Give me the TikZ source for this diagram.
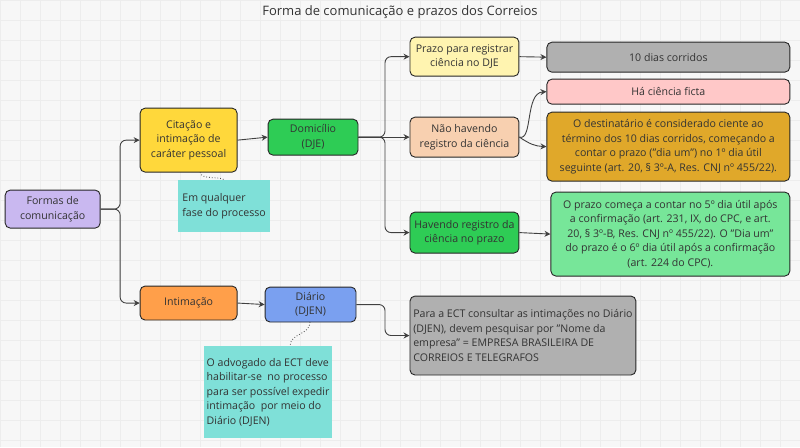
\documentclass[tikz,border=0pt]{standalone}
\usepackage{fontspec}
\setmainfont{Open Sans}
\usetikzlibrary{arrows.meta}
\begin{document}
\begin{tikzpicture}[x=1pt,y=-1pt,
  box/.style={draw=black!85,line width=0.9pt,rounded corners=5pt,align=center,inner sep=2pt,font=\fontsize{10.6}{14.5}\selectfont,text=black!80},
  note/.style={fill=teal!20!cyan!40!green!30!white,align=left,font=\fontsize{10.6}{14.5}\selectfont,text=black!80,inner sep=3pt},
  con/.style={draw=black!75,line width=0.9pt,-{Stealth[length=6pt,width=6pt]},rounded corners=6pt},
  dot/.style={draw=black!70,line width=0.8pt,dotted}]
\fill[white!97!black] (0,0) rectangle (800,447);
\foreach \x in {0,20,...,800}{\draw[black!7,line width=0.4pt] (\x,0)--(\x,447);}
\foreach \y in {0,20,...,440}{\draw[black!7,line width=0.4pt] (0,\y)--(800,\y);}
\node[font=\fontsize{13}{15}\selectfont,text=black!80] (title) at (400,12) {Forma de comunicação e prazos dos Correios};
\node[box,fill={rgb,255:red,201;green,184;blue,240},minimum width=95pt,minimum height=38pt] (formas) at (52.5,209) {Formas de\\comunicação};
\node[box,fill={rgb,255:red,255;green,216;blue,59},minimum width=97pt,minimum height=64pt] (cit) at (188.5,140) {Citação e\\intimação de\\caráter pessoal};
\node[box,fill={rgb,255:red,46;green,204;blue,85},minimum width=90pt,minimum height=36pt] (dom) at (313,137) {Domicílio\\(DJE)};
\node[note,fill={rgb,255:red,127;green,224;blue,216},minimum width=92pt,minimum height=52pt] (n1) at (224,206) {Em qualquer\\fase do processo};
\node[box,fill={rgb,255:red,255;green,159;blue,74},minimum width=97pt,minimum height=34pt] (intim) at (188.5,303) {Intimação};
\node[box,fill={rgb,255:red,122;green,160;blue,240},minimum width=91pt,minimum height=35pt] (diario) at (310.5,304.5) {Diário\\(DJEN)};
\node[note,fill={rgb,255:red,127;green,224;blue,216},minimum width=110pt,minimum height=92pt] (n2) at (268,392) {O advogado da ECT deve\\habilitar-se \ no processo\\para ser possível expedir\\intimação \ por meio do\\Diário (DJEN)};
\node[box,fill={rgb,255:red,255;green,244;blue,176},minimum width=109pt,minimum height=39pt] (prazo) at (464.5,56.5) {Prazo para registrar\\ciência no DJE};
\node[box,fill={rgb,255:red,176;green,176;blue,176},minimum width=243pt,minimum height=30pt] (dez) at (668.5,57) {10 dias corridos};
\node[box,fill={rgb,255:red,248;green,208;blue,176},minimum width=109pt,minimum height=40pt] (nao) at (464.5,137) {Não havendo\\registro da ciência};
\node[box,fill={rgb,255:red,255;green,200;blue,200},minimum width=243pt,minimum height=25pt] (ficta) at (668.5,91.5) {Há ciência ficta};
\node[box,fill={rgb,255:red,224;green,168;blue,42},minimum width=243pt,minimum height=69pt] (dest) at (668.5,146.5) {O destinatário é considerado ciente ao\\término dos 10 dias corridos, começando a\\contar o prazo (\symbol{34}dia um\symbol{34}) no 1º dia útil\\seguinte (art. 20, § 3º-A, Res. CNJ nº 455/22).};
\node[box,fill={rgb,255:red,46;green,204;blue,85},minimum width=109pt,minimum height=41pt] (hav) at (464.5,232.5) {Havendo registro da\\ciência no prazo};
\node[box,fill={rgb,255:red,119;green,230;blue,153},minimum width=239pt,minimum height=84pt] (praz5) at (670.5,234) {O prazo começa a contar no 5º dia útil após\\a confirmação (art. 231, IX, do CPC, e art.\\20, § 3º-B, Res. CNJ nº 455/22). O \symbol{34}Dia um\symbol{34}\\do prazo é o 6º dia útil após a confirmação\\(art. 224 do CPC).};
\node[box,fill={rgb,255:red,176;green,176;blue,176},minimum width=226pt,minimum height=79pt,align=left] (ect) at (523,335.5) {Para a ECT consultar as intimações no Diário\\(DJEN), devem pesquisar por \symbol{34}Nome da\\empresa\symbol{34} = EMPRESA BRASILEIRA DE\\CORREIOS E TELEGRAFOS};
\draw[con] (formas.east) -- (120,209) |- (cit.west);
\draw[con] (formas.east) -- (120,209) |- (intim.west);
\draw[con] (cit.east) -- (dom.west);
\draw[con] (intim.east) -- (diario.west);
\draw[con] (dom.east) -- (385,137) |- (prazo.west);
\draw[con] (dom.east) -- (nao.west);
\draw[con] (dom.east) -- (385,137) |- (hav.west);
\draw[con] (prazo.east) -- (dez.west);
\draw[con] (nao.east) .. controls (533,141) and (525,93) .. (ficta.west);
\draw[con] (nao.east) .. controls (530,144) and (535,146) .. (dest.west);
\draw[con] (hav.east) -- (praz5.west);
\draw[con] (diario.east) -- (385,304.5) |- (ect.west);
\draw[dot] (200,172) .. controls (200,180) and (222,176) .. (n1.north);
\draw[dot] (310,322) .. controls (310,335) and (290,333) .. (290,346);
\end{tikzpicture}
\end{document}
